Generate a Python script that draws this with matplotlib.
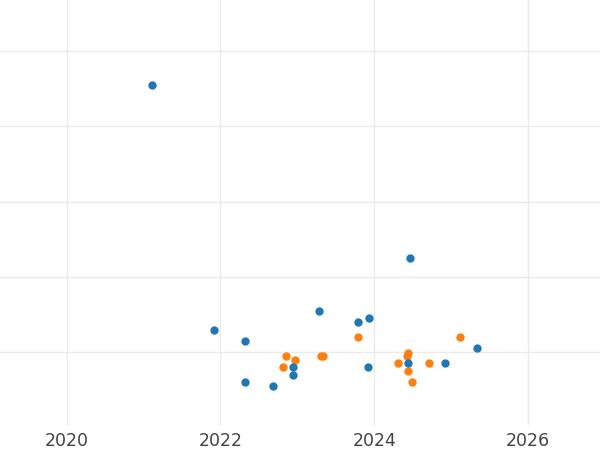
import matplotlib
matplotlib.use("Agg")
import matplotlib.pyplot as plt

blue_x = [2021.116, 2024.471, 2021.921, 2022.321, 2023.287, 2023.785, 2023.928,
          2022.321, 2022.689, 2022.940, 2022.940, 2023.921, 2024.445, 2024.926, 2025.342]
blue_y = [4.548, 2.249, 1.297, 1.150, 1.549, 1.399, 1.448,
          0.601, 0.548, 0.801, 0.698, 0.801, 0.854, 0.854, 1.049]

orange_x = [2022.854, 2022.971, 2022.819, 2023.307, 2023.339, 2023.794, 2024.445,
            2024.423, 2024.311, 2024.714, 2024.445, 2024.488, 2025.117]
orange_y = [0.951, 0.898, 0.801, 0.951, 0.951, 1.199, 0.990,
            0.946, 0.851, 0.851, 0.748, 0.601, 1.199]

x_ticks = [2020, 2022, 2024, 2026]
y_grid = [1, 2, 3, 4, 5]

fig = plt.figure(figsize=(6, 4.5), dpi=100)
ax = fig.add_axes([0, 1 - 425 / 450, 1, 425 / 450])
ax.scatter(orange_x, orange_y, s=36, color="#ff7f0e", linewidths=0, zorder=3)
ax.scatter(blue_x, blue_y, s=36, color="#1f77b4", linewidths=0, zorder=4)

ax.set_xlim(2019.135, 2026.935)
ax.set_ylim(1 - 73 / 75.25, 1 + 352 / 75.25)
ax.set_xticks(x_ticks)
ax.set_xticklabels([str(t) for t in x_ticks])
ax.set_yticks(y_grid)
ax.set_yticklabels([])
ax.grid(True, color="#ebebeb", linewidth=1.0, zorder=0)
ax.set_axisbelow(True)
for s in ax.spines.values():
    s.set_visible(False)
ax.tick_params(axis="both", length=0)
ax.tick_params(axis="x", labelsize=12.5, labelcolor="#444444", pad=5)

fig.savefig("out.png", dpi=100)
